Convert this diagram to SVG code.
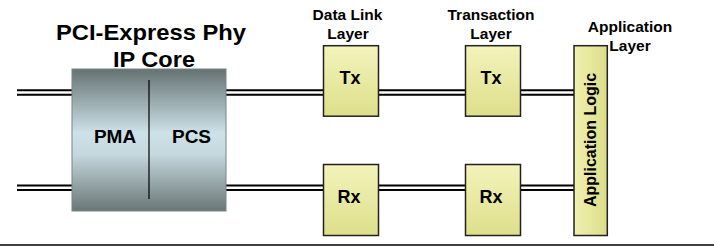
<svg xmlns="http://www.w3.org/2000/svg" width="714" height="252" viewBox="0 0 714 252">
<defs>
<linearGradient id="gray" x1="0" y1="0" x2="0" y2="1">
<stop offset="0" stop-color="#657272"/>
<stop offset="0.45" stop-color="#cde1e8"/>
<stop offset="0.6" stop-color="#c5d8de"/>
<stop offset="1" stop-color="#6a7676"/>
</linearGradient>
<linearGradient id="yel" x1="0" y1="0" x2="0" y2="1">
<stop offset="0" stop-color="#f3f3bb"/>
<stop offset="1" stop-color="#dedf8a"/>
</linearGradient>
<linearGradient id="yelh" x1="0" y1="0" x2="1" y2="0">
<stop offset="0" stop-color="#f0f0b0"/>
<stop offset="1" stop-color="#dcdd88"/>
</linearGradient>
</defs>
<style>
text{font-family:"Liberation Sans",Arial,sans-serif;font-weight:bold;fill:#000;text-anchor:middle}
.lbl{font-size:15.5px}
.box{fill:url(#yel);stroke:#222;stroke-width:1.5}
.outer{stroke:#000;stroke-width:6.4;fill:none}
.inner{stroke:#fff;stroke-width:2.6;fill:none}
.io{font-size:18px}
</style>
<rect width="714" height="252" fill="#fff"/>
<g id="connectors">
<path class="outer" d="M17 92.5H73M225 92.5H324M377 92.5H466M520 92.5H575M17 187.7H73M225 187.7H324M377 187.7H466M520 187.7H575"/>
<path class="inner" d="M17 92.5H73M225 92.5H324M377 92.5H466M520 92.5H575M17 187.7H73M225 187.7H324M377 187.7H466M520 187.7H575"/>
</g>
<g id="phy">
<text x="151" y="40" font-size="22" textLength="190" lengthAdjust="spacingAndGlyphs">PCI-Express Phy</text>
<text x="154" y="67" font-size="22" textLength="82" lengthAdjust="spacingAndGlyphs">IP Core</text>
<rect x="72" y="69" width="154" height="142" fill="url(#gray)" stroke="#7a8484" stroke-width="1"/>
<line x1="149" y1="80" x2="149" y2="199" stroke="#000" stroke-width="1.2"/>
<text x="115" y="143" font-size="19">PMA</text>
<text x="191.5" y="143" font-size="19">PCS</text>
</g>
<g id="dll-label">
<text class="lbl" x="347.5" y="20">Data Link</text>
<text class="lbl" x="348" y="38.5">Layer</text>
</g>
<g id="tl-label">
<text class="lbl" x="491" y="20">Transaction</text>
<text class="lbl" x="491" y="38.5">Layer</text>
</g>
<g id="app-label">
<text class="lbl" x="630" y="32">Application</text>
<text class="lbl" x="630" y="50.5">Layer</text>
</g>
<g id="dll-tx">
<rect class="box" x="323.5" y="45.7" width="55" height="70.5"/>
<text class="io" x="350" y="83.5">Tx</text>
</g>
<g id="tl-tx">
<rect class="box" x="465.5" y="45.7" width="55" height="70.5"/>
<text class="io" x="491" y="83.5">Tx</text>
</g>
<g id="dll-rx">
<rect class="box" x="323.5" y="164.5" width="55" height="71"/>
<text class="io" x="349" y="203">Rx</text>
</g>
<g id="tl-rx">
<rect class="box" x="465.5" y="164.5" width="55" height="71"/>
<text class="io" x="491" y="203">Rx</text>
</g>
<g id="app">
<rect x="574" y="45.7" width="33.3" height="189.8" fill="url(#yelh)" stroke="#222" stroke-width="1.5"/>
<text x="0" y="0" font-size="16" transform="translate(595.5 140) rotate(-90)">Application Logic</text>
</g>
<line x1="0" y1="245" x2="714" y2="245" stroke="#000" stroke-width="1.6"/>
</svg>
